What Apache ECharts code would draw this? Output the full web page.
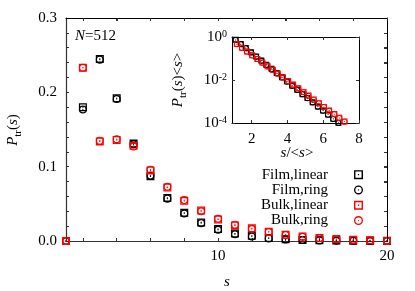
<!DOCTYPE html>
<html><head><meta charset="utf-8">
<script src="https://cdn.jsdelivr.net/npm/echarts@6/dist/echarts.min.js"></script>
<style>html,body{margin:0;padding:0;background:#fff}#c{width:415px;height:291px}</style>
</head><body><div id="c"></div>
<script>
// ---- main panel data ----
const sizes = [1,2,3,4,5,6,7,8,9,10,11,12,13,14,15,16,17,18,19,20];
const filmLinear = [0, 0.180, 0.245, 0.192, 0.131, 0.087, 0.058, 0.038, 0.025, 0.016, 0.010, 0.007, 0.004, 0.0022, 0.0015, 0.001, 0.0006, 0.0003, 0.0002, 0.0001];
const filmRing   = [0, 0.177, 0.244, 0.191, 0.130, 0.088, 0.057, 0.037, 0.024, 0.015, 0.009, 0.006, 0.0035, 0.002, 0.0012, 0.0008, 0.0004, 0.0002, 0.0001, 0.0001];
const bulkLinear = [0, 0.233, 0.134, 0.136, 0.128, 0.095, 0.072, 0.054, 0.041, 0.029, 0.021, 0.017, 0.0125, 0.0085, 0.006, 0.004, 0.0026, 0.0016, 0.001, 0.0005];
const bulkRing   = [0, 0.233, 0.135, 0.137, 0.127, 0.096, 0.073, 0.055, 0.040, 0.030, 0.022, 0.016, 0.012, 0.008, 0.0058, 0.0038, 0.0025, 0.0015, 0.0009, 0.0005];
const mainXLabels = [10, 20];
const mainXTicks = [2,4,6,8,10,12,14,16,18,20];
const mainYLabels = [0, 0.1, 0.2, 0.3];

// ---- inset data (s/<s>, P_tr(s)<s>) ----
const insetFilmX = [1.10,1.39,1.67,1.96,2.25,2.54,2.82,3.11,3.40,3.69,3.97,4.26,4.55,4.84,5.12,5.41,5.70,5.99,6.27,6.56,6.85];
const insetFilmLinear = [0.74,0.47,0.31,0.195,0.125,0.080,0.051,0.033,0.021,0.0135,0.0087,0.0055,0.0035,0.0022,0.00145,0.00093,0.00059,0.00038,0.00025,0.000158,0.000102];
const insetFilmRing   = [0.72,0.46,0.30,0.190,0.122,0.078,0.050,0.032,0.0205,0.0131,0.0084,0.0053,0.0034,0.00215,0.0014,0.0009,0.00057,0.00037,0.00024,0.000152,0.0001];
const insetBulkX = [1.17,1.46,1.74,2.03,2.32,2.60,2.89,3.18,3.46,3.75,4.04,4.32,4.61,4.90,5.18,5.47,5.76,6.04,6.33,6.62,6.90,7.19];
const insetBulkLinear = [0.47,0.32,0.21,0.14,0.096,0.065,0.044,0.030,0.020,0.0133,0.0090,0.0061,0.0041,0.0028,0.0019,0.00124,0.00084,0.00056,0.00038,0.00026,0.000174,0.000118];
const insetBulkRing   = [0.46,0.31,0.205,0.137,0.094,0.064,0.043,0.029,0.0197,0.0131,0.0089,0.0060,0.0040,0.0027,0.00185,0.00122,0.00082,0.00055,0.00037,0.000255,0.00017,0.000115];
const insetXLabels = [2,4,6,8];

const SERIF = '"Liberation Serif","DejaVu Serif",serif';
const BLACK = '#000000';
const RED = '#ff0000';
const SQ = 'path://M0,0H10V10H0Z M1.6,1.6V8.4H8.4V1.6Z M4.3,4.3H5.7V5.7H4.3Z';
const CI = 'path://M5,0A5,5 0 1,1 5,10A5,5 0 1,1 5,0Z M5,1.5A3.5,3.5 0 1,0 5,8.5A3.5,3.5 0 1,0 5,1.5Z M5,4.3A0.7,0.7 0 1,1 5,5.7A0.7,0.7 0 1,1 5,4.3Z';

const zip = (xs, ys) => xs.map((x, i) => [x, ys[i]]);
const mainLine = () => ({show: true, onZero: false, lineStyle: {color: '#333', width: 1.2}});
const thinLine = () => ({show: true, onZero: false, lineStyle: {color: '#000', width: 1}});
const tick = (vals) => {
  const t = {show: true, inside: true, length: 3, lineStyle: {color: '#333'}};
  if (vals) t.customValues = vals;
  return t;
};

const rich = {
  i: {fontFamily: SERIF, fontStyle: 'italic', fontSize: 15, color: '#000', verticalAlign: 'bottom', lineHeight: 16},
  n: {fontFamily: SERIF, fontSize: 15, color: '#000', verticalAlign: 'bottom', lineHeight: 16},
  sub: {fontFamily: SERIF, fontSize: 11, color: '#000', verticalAlign: 'bottom', lineHeight: 11, padding: [0,0,-3,0]}
};

const chart = echarts.init(document.getElementById('c'), null, {renderer: 'canvas'});

function mainSeries(name, arr, sym, color) {
  return {name, type: 'scatter', xAxisIndex: 0, yAxisIndex: 0, data: zip(sizes, arr),
    symbol: sym, symbolSize: 8, itemStyle: {color: color, opacity: 1}, z: 7};
}
function insetSeries(name, xs, arr, sym, color) {
  return {name, type: 'scatter', xAxisIndex: 2, yAxisIndex: 2, data: zip(xs, arr),
    symbol: sym, symbolSize: 6, itemStyle: {color: color, opacity: 1}, z: 8};
}

const titleTexts = [
  {type: 'text', x: 13, y: 130, rotation: Math.PI / 2, z: 10,
   style: {text: '{i|P}{sub|tr}{n|(}{i|s}{n|)}', rich: rich, align: 'center', verticalAlign: 'middle'}},
  {type: 'text', x: 227, y: 282, z: 10,
   style: {text: '{i|s}', rich: rich, align: 'center', verticalAlign: 'middle'}},
  {type: 'text', x: 75, y: 36, z: 10,
   style: {text: '{i|N}{n|=512}', rich: rich, align: 'left', verticalAlign: 'middle'}},
  {type: 'text', x: 178, y: 80, rotation: Math.PI / 2, z: 10,
   style: {text: '{i|P}{sub|tr}{n|(}{i|s}{n|)<}{i|s}{n|>}', rich: rich, align: 'center', verticalAlign: 'middle'}},
  {type: 'text', x: 297, y: 153, z: 10,
   style: {text: '{i|s}{n|/<}{i|s}{n|>}', rich: rich, align: 'center', verticalAlign: 'middle'}}
];

chart.setOption({
  animation: false,
  backgroundColor: '#fff',
  textStyle: {fontFamily: SERIF},
  grid: [
    {left: 66, top: 18, right: 28, bottom: 50, show: false},
    {left: 232, top: 37, width: 127, height: 86, show: true, backgroundColor: '#fff', borderWidth: 0, z: 5}
  ],
  xAxis: [
    {type: 'value', gridIndex: 0, min: 1, max: 20, position: 'bottom', z: 6,
     axisLine: mainLine(), splitLine: {show: false}, axisTick: tick(mainXTicks),
     axisLabel: {customValues: mainXLabels, margin: 8, fontSize: 15, fontFamily: SERIF, color: '#000'}},
    {type: 'value', gridIndex: 0, min: 1, max: 20, position: 'top', z: 6,
     axisLine: thinLine(), splitLine: {show: false}, axisTick: tick(mainXTicks),
     axisLabel: {show: false}},
    {type: 'value', gridIndex: 1, min: 0.9, max: 8, position: 'bottom', z: 6,
     axisLine: thinLine(), splitLine: {show: false}, axisTick: tick(insetXLabels),
     axisLabel: {customValues: insetXLabels, margin: 9, fontSize: 15, fontFamily: SERIF, color: '#000'}},
    {type: 'value', gridIndex: 1, min: 0.9, max: 8, position: 'top', z: 6,
     axisLine: thinLine(), splitLine: {show: false}, axisTick: tick(insetXLabels),
     axisLabel: {show: false}}
  ],
  yAxis: [
    {type: 'value', gridIndex: 0, min: 0, max: 0.3, interval: 0.02, position: 'left', z: 6,
     axisLine: mainLine(), splitLine: {show: false}, axisTick: tick(),
     axisLabel: {customValues: mainYLabels, margin: 9, fontSize: 15, fontFamily: SERIF, color: '#000',
       formatter: v => v.toFixed(1)}},
    {type: 'value', gridIndex: 0, min: 0, max: 0.3, interval: 0.02, position: 'right', z: 6,
     axisLine: thinLine(), splitLine: {show: false}, axisTick: tick(),
     axisLabel: {show: false}},
    {type: 'log', logBase: 10, gridIndex: 1, min: 0.0001, max: 1, interval: 2, position: 'left', z: 6,
     axisLine: thinLine(), splitLine: {show: false}, axisTick: tick(),
     axisLabel: {margin: 5, color: '#000',
       formatter: v => '{b|10}{sup|' + Math.round(Math.log10(v)) + '}',
       rich: {
         b: {fontFamily: SERIF, fontSize: 15, color: '#000', verticalAlign: 'bottom', lineHeight: 16},
         sup: {fontFamily: SERIF, fontSize: 10, color: '#000', verticalAlign: 'top', lineHeight: 10, padding: [0,0,6,0]}
       }}},
    {type: 'log', logBase: 10, gridIndex: 1, min: 0.0001, max: 1, interval: 2, position: 'right', z: 6,
     axisLine: thinLine(), splitLine: {show: false}, axisTick: tick(),
     axisLabel: {show: false}}
  ],
  legend: {
    data: ['Film,linear', 'Film,ring', 'Bulk,linear', 'Bulk,ring'],
    orient: 'vertical', align: 'right', right: 52, top: 167, padding: 0, z: 9,
    itemWidth: 9, itemHeight: 9, itemGap: 0, selectedMode: false,
    textStyle: {fontFamily: SERIF, fontSize: 15, color: '#000', lineHeight: 15.3, padding: [0, 21, 0, 0]}
  },
  series: [
    mainSeries('Film,linear', filmLinear, SQ, BLACK),
    mainSeries('Film,ring', filmRing, CI, BLACK),
    mainSeries('Bulk,linear', bulkLinear, SQ, RED),
    mainSeries('Bulk,ring', bulkRing, CI, RED),
    insetSeries('Film,linear', insetFilmX, insetFilmLinear, SQ, BLACK),
    insetSeries('Film,ring', insetFilmX, insetFilmRing, CI, BLACK),
    insetSeries('Bulk,linear', insetBulkX, insetBulkLinear, SQ, RED),
    insetSeries('Bulk,ring', insetBulkX, insetBulkRing, CI, RED)
  ]
});

// top/right frame of the main panel, positioned through the main axes' own scales
const frameEls = [];
try {
  const tl = chart.convertToPixel({xAxisIndex: 0, yAxisIndex: 0}, [1, 0.3]);
  const tr = chart.convertToPixel({xAxisIndex: 0, yAxisIndex: 0}, [20, 0.3]);
  const br = chart.convertToPixel({xAxisIndex: 0, yAxisIndex: 0}, [20, 0]);
  const r = v => Math.round(v) + 0.5;
  frameEls.push({type: 'polyline', z: 10, silent: true,
    shape: {points: [[r(tl[0]) - 0.5, r(tl[1])], [r(tr[0]), r(tr[1])], [r(br[0]), r(br[1])]]},
    style: {stroke: '#000', lineWidth: 1, fill: null}});
  mainXTicks.forEach(v => {
    const p = chart.convertToPixel({xAxisIndex: 0, yAxisIndex: 0}, [v, 0.3]);
    frameEls.push({type: 'line', z: 10, silent: true,
      shape: {x1: r(p[0]), y1: p[1], x2: r(p[0]), y2: p[1] + 3}, style: {stroke: '#333', lineWidth: 1}});
  });
  for (let k = 1; k < 15; k++) {
    const p = chart.convertToPixel({xAxisIndex: 0, yAxisIndex: 0}, [20, k * 0.02]);
    frameEls.push({type: 'line', z: 10, silent: true,
      shape: {x1: p[0] - 3, y1: r(p[1]), x2: p[0], y2: r(p[1])}, style: {stroke: '#333', lineWidth: 1}});
  }
} catch (e) {}

chart.setOption({graphic: titleTexts.concat(frameEls)});
</script>
</body></html>
